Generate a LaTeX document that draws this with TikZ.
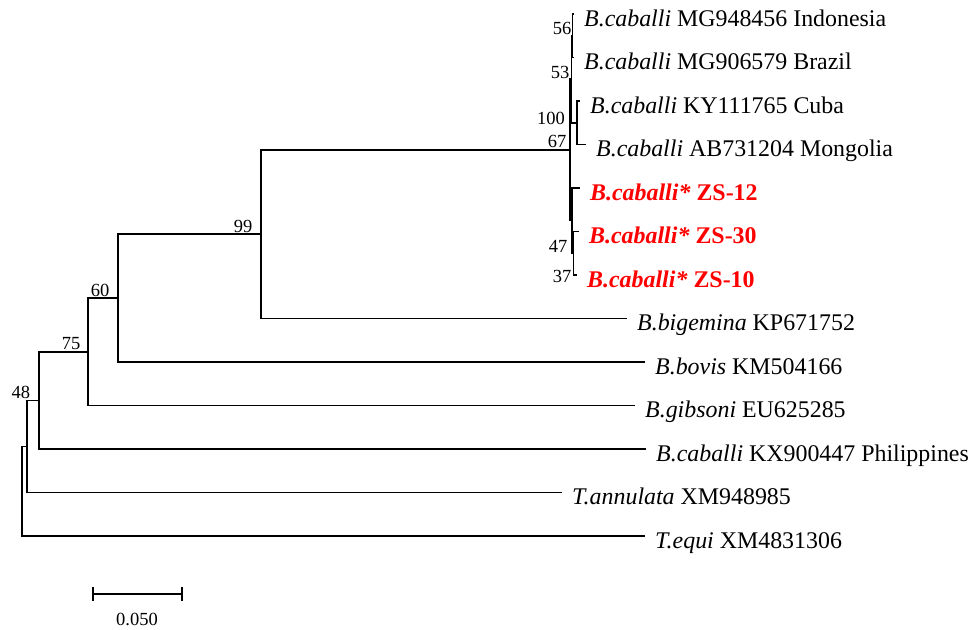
\documentclass[tikz,border=0pt]{standalone}
\usepackage{fontspec}
\setmainfont{Liberation Serif}
\begin{document}
\begin{tikzpicture}[x=1pt,y=-1pt,
  branch/.style={line width=1.6pt},
  taxon/.style={font=\fontsize{23.9}{28}\selectfont, inner sep=0pt, anchor=base west},
  strain/.style={taxon, text=red, font=\fontsize{23.9}{28}\selectfont\bfseries},
  boot/.style={font=\fontsize{18.5}{22}\selectfont, inner sep=0pt},
  barline/.style={line width=1.9pt}]
\useasboundingbox (0,0) rectangle (979,629);

% leaf tips
\coordinate (Indo) at (574,14);
\coordinate (Braz) at (574,57.5);
\coordinate (Cuba) at (580,101);
\coordinate (Mong) at (586,144.5);
\coordinate (ZSa)  at (580,188);
\coordinate (ZSb)  at (579,231.5);
\coordinate (ZSc)  at (577,275);
\coordinate (Bbig) at (627,318.5);
\coordinate (Bbov) at (645,362);
\coordinate (Bgib) at (635,405.5);
\coordinate (Phil) at (646,449);
\coordinate (Tann) at (562,492.5);
\coordinate (Tequ) at (645,536);

% internal nodes
\coordinate (n56)  at (572.5,35.75);
\coordinate (n100) at (577,122.75);
\coordinate (n53)  at (571.5,79.25);
\coordinate (n47)  at (573.5,253.25);
\coordinate (n37)  at (572,220.6);
\coordinate (n67)  at (570,149.9);
\coordinate (n99)  at (261,234.2);
\coordinate (n60)  at (118,298.1);
\coordinate (n75)  at (88,351.8);
\coordinate (n48)  at (39,400.4);
\coordinate (nX)   at (27,446.5);
\coordinate (root) at (22,491.2);

% branches
\draw[branch] (n56) |- (Indo);
\draw[branch] (n56) |- (Braz);
\draw[branch] (n100) |- (Cuba);
\draw[branch] (n100) |- (Mong);
\draw[branch] (n53) |- (n56);
\draw[branch] (n53) |- (n100);
\draw[branch] (n47) |- (ZSb);
\draw[branch] (n47) |- (ZSc);
\draw[branch] (n37) |- (ZSa);
\draw[branch] (n37) |- (n47);
\draw[branch] (n67) |- (n53);
\draw[branch] (n67) |- (n37);
\draw[branch] (n99) |- (n67);
\draw[branch] (n99) |- (Bbig);
\draw[branch] (n60) |- (n99);
\draw[branch] (n60) |- (Bbov);
\draw[branch] (n75) |- (n60);
\draw[branch] (n75) |- (Bgib);
\draw[branch] (n48) |- (n75);
\draw[branch] (n48) |- (Phil);
\draw[branch] (nX) |- (n48);
\draw[branch] (nX) |- (Tann);
\draw[branch] (root) |- (nX);
\draw[branch] (root) |- (Tequ);

% taxon labels
\node[taxon] (lIndo) at ([xshift=10pt,yshift=-12pt]Indo) {\textit{B.caballi} MG948456 Indonesia};
\node[taxon] (lBraz) at ([xshift=10pt,yshift=-12pt]Braz) {\textit{B.caballi} MG906579 Brazil};
\node[taxon] (lCuba) at ([xshift=10pt,yshift=-12pt]Cuba) {\textit{B.caballi} KY111765 Cuba};
\node[taxon] (lMong) at ([xshift=10pt,yshift=-12pt]Mong) {\textit{B.caballi} AB731204 Mongolia};
\node[strain] (lZSa) at ([xshift=10pt,yshift=-12pt]ZSa) {\textit{B.caballi*} ZS-12};
\node[strain] (lZSb) at ([xshift=10pt,yshift=-12pt]ZSb) {\textit{B.caballi*} ZS-30};
\node[strain] (lZSc) at ([xshift=10pt,yshift=-12pt]ZSc) {\textit{B.caballi*} ZS-10};
\node[taxon] (lBbig) at ([xshift=10pt,yshift=-12pt]Bbig) {\textit{B.bigemina} KP671752};
\node[taxon] (lBbov) at ([xshift=10pt,yshift=-12pt]Bbov) {\textit{B.bovis} KM504166};
\node[taxon] (lBgib) at ([xshift=10pt,yshift=-12pt]Bgib) {\textit{B.gibsoni} EU625285};
\node[taxon] (lPhil) at ([xshift=10pt,yshift=-12pt]Phil) {\textit{B.caballi} KX900447 Philippines};
\node[taxon] (lTann) at ([xshift=10pt,yshift=-12pt]Tann) {\textit{T.annulata} XM948985};
\node[taxon] (lTequ) at ([xshift=10pt,yshift=-12pt]Tequ) {\textit{T.equi} XM4831306};

% bootstrap values
\node[boot] (b56)  at (562,28)  {56};
\node[boot] (b53)  at (560,72)  {53};
\node[boot] (b100) at (551,118) {100};
\node[boot] (b67)  at (557,141) {67};
\node[boot] (b47)  at (558,246) {47};
\node[boot] (b37)  at (562,276) {37};
\node[boot] (b99)  at (243,226) {99};
\node[boot] (b60)  at (100,290) {60};
\node[boot] (b75)  at (71,344)  {75};
\node[boot] (b48)  at (21,392)  {48};

% scale bar
\coordinate (sL) at (93,594);
\coordinate (sR) at (182,594);
\draw[barline] (sL) -- (sR);
\draw[barline] ([yshift=7pt]sL) -- ([yshift=-7pt]sL);
\draw[barline] ([yshift=7pt]sR) -- ([yshift=-7pt]sR);
\node[boot] (sLab) at (137,619) {0.050};
\end{tikzpicture}
\end{document}
